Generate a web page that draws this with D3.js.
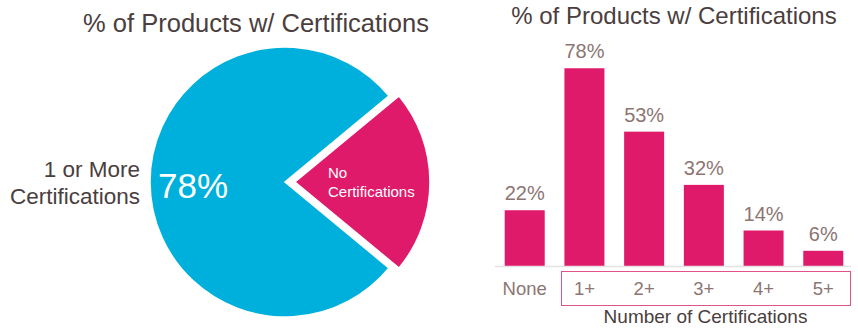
<!DOCTYPE html>
<html>
<head>
<meta charset="utf-8">
<script src="https://cdn.jsdelivr.net/npm/d3@7"></script>
<style>
  html, body { margin: 0; padding: 0; background: #fff; }
  svg { display: block; font-family: Arial, "Liberation Sans", sans-serif; }
</style>
</head>
<body>
<svg id="chart" width="858" height="330"></svg>
<script>
// Pie: share of products with / without certifications
const pieLabels = ["No Certifications", "1 or More Certifications"];
const pieValues = [22, 78];

// Bars: share of products by number of certifications
const barCategories = ["None", "1+", "2+", "3+", "4+", "5+"];
const barValues = [22, 78, 53, 32, 14, 6];

const chartTitle = "% of Products w/ Certifications";
const xAxisTitle = "Number of Certifications";

const BLUE = "#00b0dc";
const PINK = "#e01a6a";
const DARK = "#4a3e3e";
const MUTED = "#8c7572";

const svg = d3.select("#chart");

// ---------- Pie ----------
const cx = 285, cy = 182, r = 135;
const pieG = svg.append("g");

pieG.append("text")
  .attr("x", 256).attr("y", 32)
  .attr("text-anchor", "middle")
  .attr("font-size", 25.5)
  .attr("fill", DARK)
  .text(chartTitle);

// The "no certifications" wedge is centred on 3 o'clock
const noShare = pieValues[0] / d3.sum(pieValues) * 2 * Math.PI;
const pie = d3.pie().sort(null).value(d => d)
  .startAngle(Math.PI / 2 - noShare / 2)
  .endAngle(Math.PI / 2 - noShare / 2 + 2 * Math.PI);
const arcs = pie(pieValues);
const arc = d3.arc().innerRadius(0).outerRadius(r);
const explode = 10;

pieG.selectAll("path.slice")
  .data(arcs)
  .join("path")
  .attr("class", "slice")
  .attr("d", arc)
  .attr("fill", (d, i) => i === 0 ? PINK : BLUE)
  .attr("stroke", "#fff")
  .attr("stroke-width", 1.5)
  .attr("transform", (d, i) => {
    if (i !== 0) return `translate(${cx},${cy})`;
    const mid = (d.startAngle + d.endAngle) / 2;
    return `translate(${cx + explode * Math.sin(mid)},${cy - explode * Math.cos(mid)})`;
  });

// Percentage inside the large slice
pieG.append("text")
  .attr("x", 158).attr("y", 198)
  .attr("font-size", 35)
  .attr("fill", "#fff")
  .text(pieValues[1] + "%");

// Label inside the exploded slice
const noLab = pieG.append("text")
  .attr("x", 328).attr("y", 178)
  .attr("font-size", 15)
  .attr("fill", "#fff");
noLab.append("tspan").attr("x", 328).text("No");
noLab.append("tspan").attr("x", 328).attr("dy", 19).text("Certifications");

// Outside label for the large slice
const moreLab = pieG.append("text")
  .attr("x", 140).attr("y", 177)
  .attr("text-anchor", "end")
  .attr("font-size", 22.5)
  .attr("fill", DARK);
moreLab.append("tspan").attr("x", 140).text("1 or More");
moreLab.append("tspan").attr("x", 140).attr("dy", 27).text("Certifications");

// ---------- Bars ----------
const baseY = 266;
const x = d3.scaleBand()
  .domain(barCategories)
  .range([485, 863])
  .paddingInner(0.33)
  .paddingOuter(0.33);
const y = d3.scaleLinear()
  .domain([0, 100])
  .range([baseY, baseY - 253.5]);

const barG = svg.append("g");

barG.append("text")
  .attr("x", 674).attr("y", 24)
  .attr("text-anchor", "middle")
  .attr("font-size", 24)
  .attr("fill", DARK)
  .text(chartTitle);

barG.selectAll("rect.bar")
  .data(barValues)
  .join("rect")
  .attr("class", "bar")
  .attr("x", (d, i) => x(barCategories[i]))
  .attr("y", d => y(d))
  .attr("width", x.bandwidth())
  .attr("height", d => y(0) - y(d))
  .attr("fill", PINK);

barG.selectAll("text.val")
  .data(barValues)
  .join("text")
  .attr("class", "val")
  .attr("x", (d, i) => x(barCategories[i]) + x.bandwidth() / 2)
  .attr("y", d => y(d) - 10)
  .attr("text-anchor", "middle")
  .attr("font-size", 20)
  .attr("fill", MUTED)
  .text(d => d + "%");

// Baseline
barG.append("line")
  .attr("x1", 495).attr("x2", 851)
  .attr("y1", baseY + 0.5).attr("y2", baseY + 0.5)
  .attr("stroke", "#e6e2e2")
  .attr("stroke-width", 1.5);

// Category axis (tick lines hidden)
const xAxis = d3.axisBottom(x).tickSize(0).tickPadding(0);
const axG = barG.append("g")
  .attr("transform", `translate(0,${baseY})`)
  .call(xAxis);
axG.select(".domain").remove();
axG.selectAll("text")
  .attr("dy", 0)
  .attr("y", 29)
  .attr("font-family", "Arial, 'Liberation Sans', sans-serif")
  .attr("font-size", 18.5)
  .attr("fill", MUTED);

// Bracket around the "at least N" categories
barG.append("rect")
  .attr("x", 561.5).attr("y", 271.5)
  .attr("width", 289).attr("height", 34)
  .attr("fill", "none")
  .attr("stroke", "#e0528a")
  .attr("stroke-width", 1);

barG.append("text")
  .attr("x", 705.5).attr("y", 323)
  .attr("text-anchor", "middle")
  .attr("font-size", 19)
  .attr("fill", DARK)
  .text(xAxisTitle);
</script>
</body>
</html>
